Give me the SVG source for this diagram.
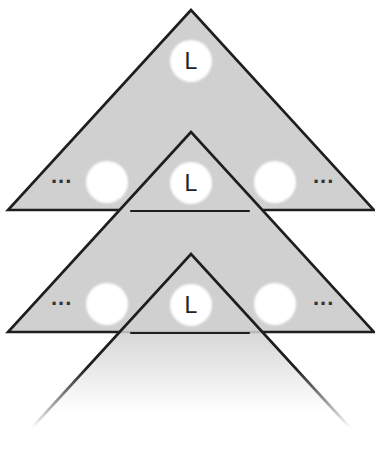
<svg xmlns="http://www.w3.org/2000/svg" width="375" height="456" viewBox="0 0 375 456">
<style>
.tri{fill:#d0d0d0;stroke:#1e1e1e;stroke-width:2.6;stroke-linejoin:miter}
.hole{fill:#ffffff;filter:url(#soft)}
.lbl{font-family:"Liberation Sans","DejaVu Sans",sans-serif;font-size:23px;fill:#222;text-anchor:middle}
.dots{font-family:"Liberation Sans","DejaVu Sans",sans-serif;font-size:22px;font-weight:bold;fill:#333;letter-spacing:1px}
.base{stroke:#1e1e1e;stroke-width:2.2;fill:none;stroke-linecap:round}
</style>
<defs>
<filter id="soft" x="-20%" y="-20%" width="140%" height="140%"><feGaussianBlur stdDeviation="1.2"/></filter>
<linearGradient id="fadeFill" gradientUnits="userSpaceOnUse" x1="0" y1="320" x2="0" y2="412">
<stop offset="0" stop-color="#fff" stop-opacity="1"/>
<stop offset="0.5" stop-color="#fff" stop-opacity="0.5"/>
<stop offset="1" stop-color="#fff" stop-opacity="0"/>
</linearGradient>
<linearGradient id="fadeLine" gradientUnits="userSpaceOnUse" x1="0" y1="368" x2="0" y2="428">
<stop offset="0" stop-color="#fff" stop-opacity="1"/>
<stop offset="1" stop-color="#fff" stop-opacity="0"/>
</linearGradient>
<mask id="maskFill" maskUnits="userSpaceOnUse" x="0" y="0" width="375" height="456">
<rect x="0" y="0" width="375" height="456" fill="url(#fadeFill)"/>
</mask>
<mask id="maskLine" maskUnits="userSpaceOnUse" x="0" y="0" width="375" height="456">
<rect x="0" y="0" width="375" height="456" fill="url(#fadeLine)"/>
</mask>
</defs>
<rect width="375" height="456" fill="#fff"/>

<g id="tree1">
<polygon class="tri" points="191,10 8,210 374,210"/>
<circle class="hole" cx="191" cy="61" r="21"/>
<text class="lbl" x="191" y="69">L</text>
<circle class="hole" cx="107" cy="182" r="21"/>
<circle class="hole" cx="275" cy="182" r="21"/>
<text class="dots" x="51" y="183">...</text>
<text class="dots" x="313" y="183">...</text>
</g>

<g id="tree2">
<polygon class="tri" points="191,132 8,332 374,332"/>
<circle class="hole" cx="191" cy="183" r="21"/>
<text class="lbl" x="191" y="191">L</text>
<circle class="hole" cx="107" cy="304" r="21"/>
<circle class="hole" cx="275" cy="304" r="21"/>
<text class="dots" x="51" y="305">...</text>
<text class="dots" x="313" y="305">...</text>
</g>

<g id="tree3">
<polygon points="191,254 8,454 374,454" fill="#d0d0d0" mask="url(#maskFill)"/>
<polyline points="8,454 191,254 374,454" fill="none" stroke="#1e1e1e" stroke-width="2.6" mask="url(#maskLine)"/>
<circle class="hole" cx="191" cy="305" r="21"/>
<text class="lbl" x="191" y="313">L</text>
</g>

<g id="connectors">
<line class="base" x1="131" y1="211" x2="249" y2="211"/>
<line class="base" x1="131" y1="333" x2="249" y2="333"/>
</g>
</svg>
